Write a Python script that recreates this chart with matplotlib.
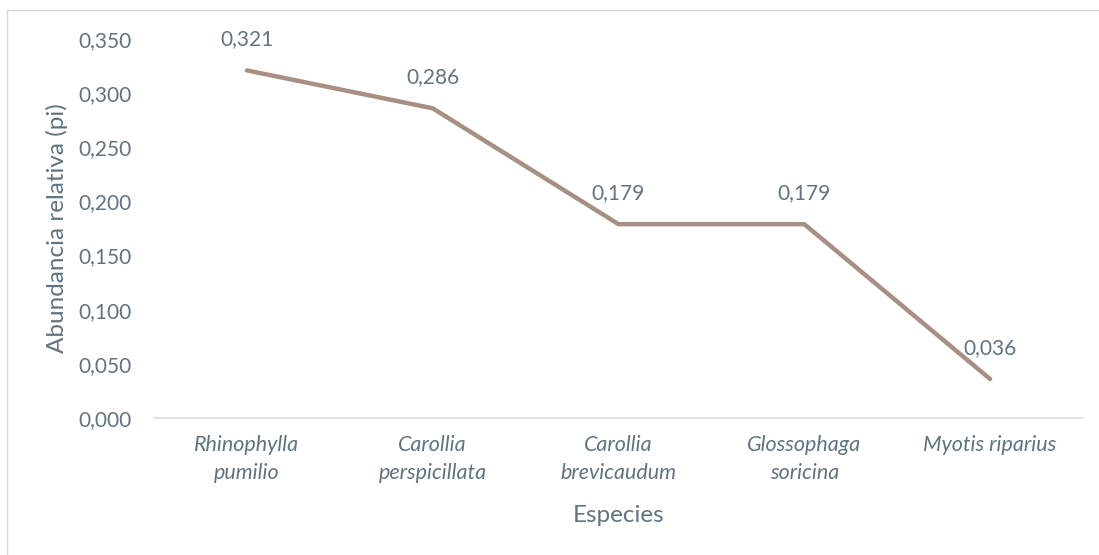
import matplotlib.pyplot as plt
from matplotlib.ticker import FuncFormatter, MultipleLocator
from matplotlib.patches import Rectangle

# Data
especies = ['Rhinophylla\npumilio', 'Carollia\nperspicillata', 'Carollia\nbrevicaudum',
            'Glossophaga\nsoricina', 'Myotis riparius']
pi_values = [0.321, 0.286, 0.179, 0.179, 0.036]

text_color = '#5f7381'
line_color = '#a88f84'

plt.rcParams['font.family'] = ['Lato', 'DejaVu Sans']

fig = plt.figure(figsize=(10.99, 5.55), dpi=100)
W, H = 1099, 555
ax = fig.add_axes([154 / W, 1 - 418 / H, (1083 - 154) / W, (418 - 39) / H])

# chart border (Excel chart area)
fig.patches.append(Rectangle((7 / W, -0.1), 1.2, 1 - 10 / H + 0.1, transform=fig.transFigure,
                             fill=False, edgecolor='#d9d9d9', linewidth=1.0))

x = list(range(len(especies)))
ax.plot(x, pi_values, color=line_color, linewidth=3.2, solid_capstyle='round',
        solid_joinstyle='miter')

fmt = lambda v: f'{v:.3f}'.replace('.', ',')
for xi, v in zip(x, pi_values):
    ax.annotate(fmt(v), (xi, v), xytext=(0, 31), textcoords='offset pixels',
                ha='center', va='center', fontsize=15, color=text_color)

ax.set_xlim(-0.5, len(especies) - 0.5)
ax.set_ylim(0, 0.35)
ax.yaxis.set_major_locator(MultipleLocator(0.05))
ax.yaxis.set_major_formatter(FuncFormatter(lambda v, p: fmt(v)))
ax.set_xticks(x)
ax.set_xticklabels(especies, style='italic', linespacing=1.55, fontsize=15.5)

ax.tick_params(axis='both', length=0, labelcolor=text_color)
ax.tick_params(axis='y', pad=16, labelsize=15)
ax.tick_params(axis='x', pad=12)

for side in ['top', 'right', 'left']:
    ax.spines[side].set_visible(False)
ax.spines['bottom'].set_color('#d9dde1')
ax.spines['bottom'].set_linewidth(1.2)

ax.set_ylabel('Abundancia relativa (pi)', fontsize=17.5, color=text_color)
ax.set_xlabel('Especies', fontsize=17.5, color=text_color)
ax.yaxis.set_label_coords((57 - 154) / (1083 - 154), 0.5)
ax.xaxis.set_label_coords(0.5, (418 - 515) / (418 - 39))
ax.yaxis.label.set_va('center')
ax.xaxis.label.set_va('center')

fig.savefig('out.png', dpi=100)
